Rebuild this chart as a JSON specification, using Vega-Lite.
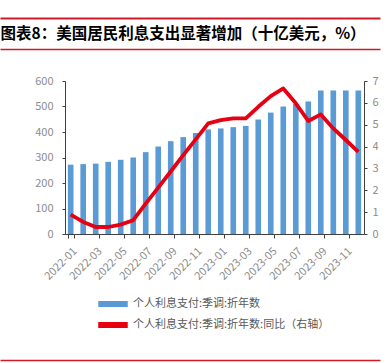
{
  "$schema": "https://vega.github.io/schema/vega-lite/v6.json",
  "padding": {"left": 0, "top": 15, "right": 0, "bottom": 0},
  "background": "white",
  "config": {"view": {"stroke": null}, "font": "Noto Sans CJK SC"},
  "spacing": 23,
  "vconcat": [
    {
      "width": 380,
      "height": 31,
      "data": {"values": [{"k": 0}, {"k": 1}]},
      "encoding": {
        "y": {"field": "k", "type": "quantitative", "scale": {"domain": [0, 1]}, "axis": null}
      },
      "layer": [
        {
          "mark": {"type": "point", "opacity": 0},
          "encoding": {
            "x": {"field": "k", "type": "quantitative", "scale": {"domain": [0, 1]},
              "axis": {"orient": "bottom", "position": -65, "domainColor": "#D0192B", "domainWidth": 1.3, "labels": false, "ticks": false, "grid": false,
                "title": "图表8：美国居民利息支出显著增加（十亿美元，%）", "titleAnchor": "start", "titleAlign": "left", "titleBaseline": "middle", "titleX": 0, "titleY": -15.5,
                "titleFontSize": 15.5, "titleFontWeight": "bold", "titleColor": "#000000", "titleFont": "Noto Sans CJK SC"}}
          }
        },
        {
          "mark": {"type": "point", "opacity": 0},
          "encoding": {
            "x": {"field": "k", "type": "quantitative",
              "axis": {"orient": "top", "position": -65, "domainColor": "#D0192B", "domainWidth": 2.2, "labels": false, "ticks": false, "grid": false, "title": null}}
          }
        }
      ],
      "resolve": {"axis": {"x": "independent"}}
    },
    {
      "width": 299,
      "height": 153,
      "data": {"values": [
        {"m": "2022-01", "v": 272, "y": 0.89},
        {"m": "2022-02", "v": 274, "y": 0.55},
        {"m": "2022-03", "v": 276, "y": 0.32},
        {"m": "2022-04", "v": 283, "y": 0.32},
        {"m": "2022-05", "v": 291, "y": 0.43},
        {"m": "2022-06", "v": 300, "y": 0.63},
        {"m": "2022-07", "v": 321, "y": 1.39},
        {"m": "2022-08", "v": 343, "y": 2.12},
        {"m": "2022-09", "v": 364, "y": 2.86},
        {"m": "2022-10", "v": 380, "y": 3.61},
        {"m": "2022-11", "v": 396, "y": 4.33},
        {"m": "2022-12", "v": 410, "y": 5.06},
        {"m": "2023-01", "v": 414, "y": 5.21},
        {"m": "2023-02", "v": 419, "y": 5.29},
        {"m": "2023-03", "v": 424, "y": 5.29},
        {"m": "2023-04", "v": 449, "y": 5.82},
        {"m": "2023-05", "v": 476, "y": 6.31},
        {"m": "2023-06", "v": 500, "y": 6.66},
        {"m": "2023-07", "v": 510, "y": 5.98},
        {"m": "2023-08", "v": 520, "y": 5.17},
        {"m": "2023-09", "v": 563, "y": 5.47},
        {"m": "2023-10", "v": 563, "y": 4.83},
        {"m": "2023-11", "v": 563, "y": 4.3},
        {"m": "2023-12", "v": 563, "y": 3.76}
      ]},
      "encoding": {
        "x": {
          "field": "m", "type": "ordinal", "sort": null,
          "scale": {"paddingInner": 0.55, "paddingOuter": 0.23},
          "axis": {
            "title": null,
            "values": ["2022-01", "2022-03", "2022-05", "2022-07", "2022-09", "2022-11", "2023-01", "2023-03", "2023-05", "2023-07", "2023-09", "2023-11"],
            "labelAngle": -45, "labelFontSize": 11, "labelColor": "#8C8C8C", "labelPadding": 7,
            "domainColor": "#404040", "tickColor": "#404040", "tickSize": 4, "tickBand": "extent"
          }
        }
      },
      "layer": [
        {
          "mark": {"type": "bar", "color": "#5B9BD5"},
          "encoding": {
            "y": {"field": "v", "type": "quantitative", "scale": {"domain": [0, 600]},
              "axis": {"title": null, "values": [0, 100, 200, 300, 400, 500, 600], "grid": false, "labelFontSize": 11, "labelColor": "#8C8C8C", "labelPadding": 9, "tickSize": 3, "domainColor": "#404040", "tickColor": "#404040", "minExtent": 65}},
            "color": {
              "datum": "个人利息支付:季调:折年数",
              "scale": {"domain": ["个人利息支付:季调:折年数", "个人利息支付:季调:折年数:同比（右轴）"], "range": ["#5B9BD5", "#E60012"]},
              "legend": {
                "title": null, "orient": "none", "direction": "vertical", "legendX": 33, "legendY": 271,
                "symbolType": "M-1,-0.16L1,-0.16L1,0.16L-1,0.16Z", "symbolSize": 784,
                "labelFontSize": 11, "labelColor": "#595959", "labelOffset": 5, "rowPadding": -2, "labelLimit": 300,
                "encode": {"symbols": {"update": {"fill": {"scale": "color", "field": "value"}, "stroke": {"value": "transparent"}}}}
              }
            }
          }
        },
        {
          "mark": {"type": "line", "strokeWidth": 3.8, "strokeJoin": "round"},
          "encoding": {
            "y": {"field": "y", "type": "quantitative", "scale": {"domain": [0, 7]},
              "axis": {"title": null, "orient": "right", "values": [0, 1, 2, 3, 4, 5, 6, 7], "grid": false, "labelFontSize": 11, "labelColor": "#8C8C8C", "labelPadding": 5, "tickSize": 3, "domainColor": "#404040", "tickColor": "#404040"}},
            "color": {"datum": "个人利息支付:季调:折年数:同比（右轴）"}
          }
        }
      ],
      "resolve": {"scale": {"y": "independent"}}
    },
    {
      "width": 380,
      "height": 52,
      "data": {"values": [{"k": 0}, {"k": 1}]},
      "mark": {"type": "point", "opacity": 0},
      "encoding": {
        "x": {"field": "k", "type": "quantitative", "scale": {"domain": [0, 1]},
          "axis": {"orient": "bottom", "position": -65, "domainColor": "#D0192B", "domainWidth": 1.5, "labels": false, "ticks": false, "grid": false, "title": null}},
        "y": {"field": "k", "type": "quantitative", "scale": {"domain": [0, 1]}, "axis": null}
      }
    }
  ]
}
